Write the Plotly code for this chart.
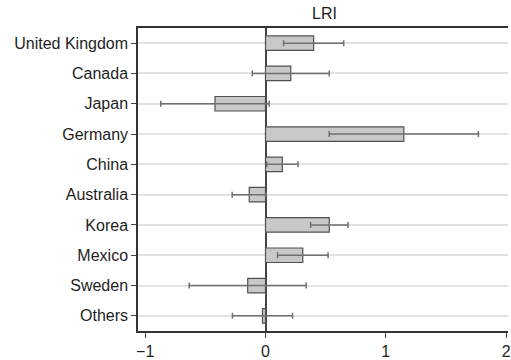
import plotly.graph_objects as go

# Country groups, top to bottom
countries = ["United Kingdom", "Canada", "Japan", "Germany", "China",
             "Australia", "Korea", "Mexico", "Sweden", "Others"]
# LRI estimates and half-width of their confidence intervals
lri = [0.40, 0.21, -0.42, 1.15, 0.14, -0.135, 0.53, 0.31, -0.148, -0.025]
ci_half = [0.25, 0.32, 0.45, 0.62, 0.13, 0.142, 0.155, 0.21, 0.486, 0.25]
x_ticks = [-1, 0, 1, 2]
x_tick_text = ["\u22121", "0", "1", "2"]

font_family = "Liberation Sans, Arial, Helvetica, sans-serif"

fig = go.Figure(
    go.Bar(
        x=lri,
        y=countries,
        orientation="h",
        width=0.48,
        marker=dict(color="#c8c8c8", line=dict(color="#505050", width=1.2)),
        error_x=dict(type="data", array=ci_half, symmetric=True,
                     color="#707070", thickness=1.5, width=3),
    )
)

fig.update_layout(
    width=511,
    height=360,
    margin=dict(l=138, r=0, t=28, b=26),
    paper_bgcolor="white",
    plot_bgcolor="white",
    font=dict(family=font_family, size=16, color="#1e1e1e"),
    title=dict(text="LRI", x=0.635, xanchor="center", y=0.962, yanchor="middle",
               font=dict(family=font_family, size=16, color="#1e1e1e")),
    showlegend=False,
)

fig.update_xaxes(
    range=[-1.06, 2.016],
    tickvals=x_ticks,
    ticktext=x_tick_text,
    ticks="outside",
    ticklen=5,
    tickcolor="#444444",
    ticklabeloverflow="allow",
    showgrid=False,
    showline=True,
    linecolor="#333333",
    linewidth=1.5,
    mirror=True,
    zeroline=True,
    zerolinecolor="#444444",
    zerolinewidth=1.5,
    tickfont=dict(size=16),
)

fig.update_yaxes(
    autorange="reversed",
    ticks="outside",
    ticklen=5,
    tickcolor="#444444",
    showgrid=True,
    gridcolor="#e2e2e2",
    gridwidth=1.5,
    showline=True,
    linecolor="#333333",
    linewidth=1.5,
    tickfont=dict(size=16),
)

fig.write_html("out.html")
